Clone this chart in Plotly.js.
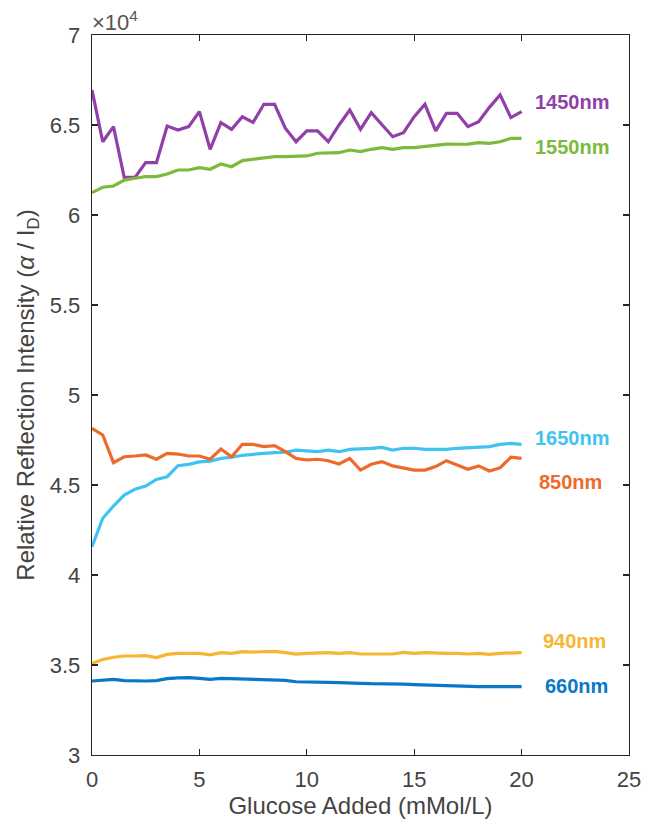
<!DOCTYPE html>
<html>
<head>
<meta charset="utf-8">
<script src="https://cdn.plot.ly/plotly-3.0.1.min.js"></script>
<style>html,body{margin:0;padding:0;background:#fff;}#chart{width:654px;height:830px;}</style>
</head>
<body>
<div id="chart"></div>
<script>
// Glucose added (mMol/L), step 0.5 from 0 to 20
const glucose = [0,0.5,1,1.5,2,2.5,3,3.5,4,4.5,5,5.5,6,6.5,7,7.5,8,8.5,9,9.5,10,10.5,11,11.5,12,12.5,13,13.5,14,14.5,15,15.5,16,16.5,17,17.5,18,18.5,19,19.5,20];

// Relative reflection intensity (x 10^4)
const nm1450 = [6.694,6.407,6.491,6.209,6.209,6.291,6.291,6.494,6.472,6.491,6.574,6.365,6.513,6.476,6.546,6.515,6.615,6.615,6.482,6.407,6.467,6.467,6.407,6.500,6.583,6.476,6.569,6.500,6.435,6.457,6.546,6.615,6.467,6.565,6.565,6.491,6.518,6.598,6.667,6.541,6.574];
const nm1550 = [6.124,6.154,6.161,6.194,6.204,6.213,6.213,6.228,6.250,6.250,6.263,6.254,6.283,6.268,6.302,6.309,6.318,6.324,6.324,6.328,6.328,6.343,6.346,6.346,6.361,6.352,6.365,6.374,6.365,6.374,6.374,6.380,6.389,6.394,6.393,6.394,6.402,6.398,6.407,6.426,6.426];
const nm850 = [4.815,4.778,4.624,4.657,4.661,4.667,4.643,4.676,4.672,4.661,4.661,4.643,4.700,4.657,4.726,4.726,4.713,4.719,4.685,4.648,4.639,4.643,4.635,4.617,4.648,4.583,4.615,4.630,4.606,4.596,4.583,4.583,4.602,4.635,4.611,4.587,4.606,4.578,4.596,4.654,4.648];
const nm1650 = [4.157,4.315,4.383,4.444,4.476,4.494,4.531,4.546,4.607,4.615,4.628,4.633,4.648,4.654,4.665,4.672,4.676,4.680,4.682,4.694,4.689,4.685,4.694,4.685,4.698,4.700,4.704,4.709,4.694,4.704,4.704,4.698,4.698,4.698,4.704,4.707,4.709,4.713,4.726,4.731,4.726];
const nm940 = [3.509,3.531,3.543,3.550,3.550,3.552,3.541,3.559,3.565,3.565,3.565,3.556,3.569,3.565,3.574,3.572,3.574,3.576,3.569,3.561,3.565,3.569,3.569,3.565,3.569,3.561,3.561,3.565,3.561,3.570,3.565,3.569,3.565,3.565,3.565,3.561,3.565,3.559,3.565,3.569,3.569];
const nm660 = [3.411,3.417,3.420,3.413,3.411,3.411,3.413,3.424,3.428,3.430,3.426,3.420,3.426,3.424,3.424,3.422,3.422,3.420,3.415,3.407,3.407,3.406,3.404,3.402,3.398,3.398,3.396,3.396,3.394,3.394,3.391,3.389,3.387,3.383,3.383,3.381,3.380,3.380,3.380,3.380,3.380];

const seriesNames = ['1450nm','1550nm','1650nm','850nm','940nm','660nm'];
const seriesData = [nm1450, nm1550, nm1650, nm850, nm940, nm660];
const seriesColors = ['#9040A8','#7BBA3A','#3FC3F0','#EE6A2A','#F5B731','#0A78C8'];
// label anchor positions (data coords)
const labelX = [20.53, 20.53, 20.53, 20.72, 20.9, 21.0];
const labelY = [6.628, 6.378, 4.761, 4.517, 3.633, 3.383];

const xTicks = [0,5,10,15,20,25];
const yTicks = [3,3.5,4,4.5,5,5.5,6,6.5,7];

const traces = seriesData.map((d,i) => ({
  x: glucose, y: d, type: 'scatter', mode: 'lines', name: seriesNames[i],
  line: {color: seriesColors[i], width: 3.2}
}));

const annotations = seriesNames.map((n,i) => ({
  x: labelX[i], y: labelY[i], xref: 'x', yref: 'y', text: '<b>' + n + '</b>',
  showarrow: false, xanchor: 'left', yanchor: 'middle',
  font: {family: 'Liberation Sans, Arial, sans-serif', size: 20, color: seriesColors[i]}
}));
annotations.push({
  x: 0, y: 1, xref: 'paper', yref: 'paper', xanchor: 'left', yanchor: 'bottom',
  text: '×10<sup>4</sup>', showarrow: false, yshift: -2, xshift: -2,
  font: {family: 'Liberation Sans, Arial, sans-serif', size: 22, color: '#555'}
});

const axisCommon = {
  showline: true, linecolor: '#262626', linewidth: 1.3, mirror: 'ticks',
  ticks: 'inside', ticklen: 6, tickcolor: '#262626', tickwidth: 1.2,
  showgrid: false, zeroline: false,
  tickfont: {family: 'Liberation Sans, Arial, sans-serif', size: 22, color: '#444'}
};

const layout = {
  width: 654, height: 830,
  margin: {l: 92, r: 25, t: 35, b: 75},
  paper_bgcolor: '#fff', plot_bgcolor: '#fff',
  showlegend: false,
  xaxis: Object.assign({}, axisCommon, {
    range: [0, 25], tickvals: xTicks, ticklabelstandoff: 4,
    title: {text: 'Glucose Added (mMol/L)', standoff: 6,
      font: {family: 'Liberation Sans, Arial, sans-serif', size: 24, color: '#444'}}
  }),
  yaxis: Object.assign({}, axisCommon, {
    range: [3, 7], tickvals: yTicks, ticklabelstandoff: 6,
    title: {text: 'Relative Reflection Intensity (<i>α</i> / I<sub>D</sub>)', standoff: 8,
      font: {family: 'Liberation Sans, Arial, sans-serif', size: 24, color: '#444'}}
  }),
  annotations: annotations
};

Plotly.newPlot('chart', traces, layout, {displayModeBar: false, staticPlot: true});
</script>
</body>
</html>
